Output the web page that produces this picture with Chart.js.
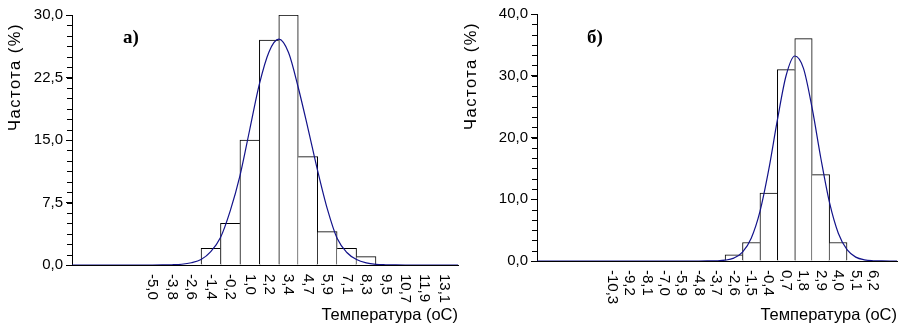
<!DOCTYPE html>
<html>
<head>
<meta charset="utf-8">
<script src="https://cdn.jsdelivr.net/npm/chart.js@4.4.0/dist/chart.umd.min.js"></script>
<style>
    body { margin: 0; background: #fff; }
    canvas { position: absolute; top: 0; }
    #chartA { left: 0; }
    #chartB { left: 460px; }
</style>
</head>
<body>
<canvas id="chartA" width="460" height="330"></canvas>
<canvas id="chartB" width="438" height="330"></canvas>
<script>
// а) histogram
const labelsA = ['-5,0', '-3,8', '-2,6', '-1,4', '-0,2', '1,0', '2,2', '3,4',
                 '4,7', '5,9', '7,1', '8,3', '9,5', '10,7', '11,9', '13,1'];
const freqA = [0, 0, 0, 2, 5, 15, 27, 30, 13, 4, 2, 1, 0, 0, 0, 0];
// fitted curve (x in bin units)
const curveXA = [-4.14, -3, -2, -1, 0, 0.5, 1, 1.5, 2, 2.5, 3, 3.5, 4, 4.5, 5, 5.5, 6, 6.5,
                 7, 7.5, 8, 8.5, 9, 9.5, 10, 10.5, 11, 11.5, 12, 12.5, 13, 14, 15, 15.72];
const curveYA = [0, 0, 0, 0, 0, 0.01, 0.03, 0.09, 0.27, 0.65, 1.6, 3.3, 6.5, 10.7, 16.2, 21.7, 25.6, 27.1,
                 25.5, 21.3, 16.4, 11.3, 6.7, 3.2, 1.5, 0.65, 0.25, 0.08, 0.03, 0.01, 0, 0, 0, 0];

// б) histogram
const labelsB = ['-10,3', '-9,2', '-8,1', '-7,0', '-5,9', '-4,8', '-3,7', '-2,6',
                 '-1,5', '-0,4', '0,7', '1,8', '2,9', '4,0', '5,1', '6,2'];
const freqB = [0, 0, 0, 0, 0, 0, 0, 1, 3, 11, 31, 36, 14, 3, 0, 0];
const curveXB = [-4.3, -3, -2, -1, 0, 1, 2, 3, 4, 5, 5.5, 6, 6.5, 7, 7.5, 8, 8.5, 9, 9.5, 10, 10.5,
                 11, 11.5, 12, 12.5, 13, 13.5, 14, 14.5, 15, 15.5, 16, 16.37];
const curveYB = [0, 0, 0, 0, 0, 0, 0, 0, 0, 0, 0.01, 0.03, 0.13, 0.47, 1.44, 3.7, 8.0, 14.7, 22.8, 30.0, 33.2,
                 31.2, 24.7, 16.6, 9.4, 4.5, 1.83, 0.63, 0.18, 0.04, 0.01, 0, 0];

const FONT = '"Liberation Sans", Arial, sans-serif';
Chart.defaults.color = '#000';
Chart.defaults.font.family = FONT;

// rotated x labels (reading downwards), minor y ticks, y title and the panel letter
const extraText = {
    id: 'extraText',
    afterDraw(chart, args, opts) {
        const ctx = chart.ctx;
        const x = chart.scales.x;
        const y = chart.scales.y;
        ctx.save();

        // small tick marks on the y axis
        ctx.strokeStyle = '#000';
        ctx.lineWidth = 1;
        ctx.beginPath();
        for (let i = 0; i * opts.minor <= y.max + 1e-9; i++) {
            const py = Math.round(y.getPixelForValue(i * opts.minor)) + 0.5;
            ctx.moveTo(y.right - 5, py);
            ctx.lineTo(y.right, py);
        }
        ctx.stroke();

        ctx.fillStyle = '#000';
        ctx.font = '15px ' + FONT;
        ctx.textAlign = 'left';
        ctx.textBaseline = 'middle';
        opts.labels.forEach((t, i) => {
            ctx.save();
            ctx.translate(x.getPixelForValue(i), x.top + opts.gap);
            ctx.rotate(Math.PI / 2);
            ctx.fillText(t, 0, 0);
            ctx.restore();
        });

        ctx.save();
        ctx.font = '16.5px ' + FONT;
        ctx.letterSpacing = '1.5px';
        ctx.textAlign = 'right';
        ctx.translate(opts.yTitleX, chart.chartArea.top + 8);
        ctx.rotate(-Math.PI / 2);
        ctx.fillText('Частота (%)', 0, 0);
        ctx.restore();

        ctx.font = 'bold 19px "Liberation Serif", "Times New Roman", serif';
        ctx.textBaseline = 'alphabetic';
        ctx.fillText(opts.panel, opts.panelX, opts.panelY);
        ctx.restore();
    }
};

function makeChart(id, cfg) {
    const bars = cfg.freq.map((v, i) => ({ x: i, y: v }));
    const curve = cfg.curveX.map((v, i) => ({ x: v, y: cfg.curveY[i] }));
    const freq = cfg.freq;
    const minor = cfg.major / 6;

    return new Chart(document.getElementById(id), {
        type: 'bar',
        data: {
            datasets: [{
                type: 'line',
                data: curve,
                borderColor: '#12128a',
                borderWidth: 1.2,
                pointRadius: 0,
                cubicInterpolationMode: 'monotone',
                order: 0
            }, {
                data: bars,
                backgroundColor: '#fff',
                borderColor: '#000',
                // one shared 1px line between neighbouring bars
                borderWidth: (c) => {
                    const i = c.dataIndex;
                    const v = freq[i];
                    return {
                        top: 1,
                        bottom: 0,
                        left: (i > 0 && freq[i - 1] > v) ? 0 : 1,
                        right: (i < freq.length - 1 && freq[i + 1] >= v) ? 0 : 1
                    };
                },
                barPercentage: 1,
                categoryPercentage: 1,
                order: 1
            }]
        },
        options: {
            responsive: false,
            animation: false,
            layout: { padding: { top: cfg.top, right: cfg.right, left: 0, bottom: 0 } },
            plugins: {
                legend: { display: false },
                tooltip: { enabled: false },
                extraText: {
                    labels: cfg.labels, gap: 9, yTitleX: cfg.yTitleX, minor: minor,
                    panel: cfg.panel, panelX: cfg.panelX, panelY: 43
                }
            },
            scales: {
                x: {
                    type: 'linear',
                    offset: false,
                    min: cfg.xMin,
                    max: cfg.xMax,
                    grid: { display: false },
                    border: { color: '#000', width: 1 },
                    ticks: { display: false },
                    title: {
                        display: true,
                        text: 'Температура (оС)',
                        align: 'end',
                        font: { size: 16.5 },
                        padding: { top: 0, bottom: 5 }
                    },
                    afterFit: (s) => { s.height = cfg.xHeight; }
                },
                y: {
                    min: 0,
                    max: cfg.yMax,
                    grid: { drawOnChartArea: false, drawTicks: true, tickLength: 6, color: '#000' },
                    border: { color: '#000', width: 1 },
                    ticks: {
                        autoSkip: false,
                        stepSize: cfg.major,
                        padding: 3,
                        font: { size: 15 },
                        callback: (v) => v.toFixed(1).replace('.', ',')
                    },
                    afterFit: (s) => { s.width = cfg.yWidth; }
                }
            }
        },
        plugins: [extraText]
    });
}

window.onload = function() {
    makeChart('chartA', {
        labels: labelsA, freq: freqA, curveX: curveXA, curveY: curveYA,
        xMin: -4.14, xMax: 15.72, yMax: 30, major: 7.5,
        top: 15, right: 2, xHeight: 65, yWidth: 72, yTitleX: 15,
        panel: 'а)', panelX: 123
    });
    makeChart('chartB', {
        labels: labelsB, freq: freqB, curveX: curveXB, curveY: curveYB,
        xMin: -4.3, xMax: 16.37, yMax: 40, major: 10,
        top: 14, right: 1, xHeight: 69, yWidth: 77, yTitleX: 11,
        panel: 'б)', panelX: 127
    });
};
</script>
</body>
</html>
